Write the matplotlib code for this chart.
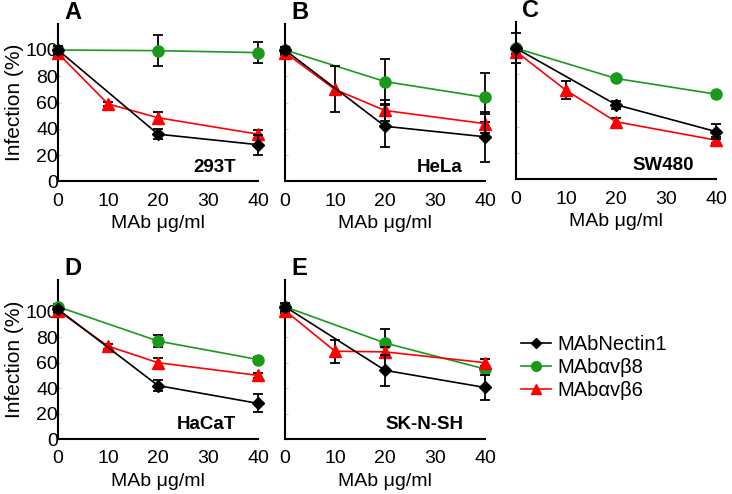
"""
Antibody blocking of infection in five cell lines (panels A-E).
"""

import matplotlib
matplotlib.use("Agg")
import matplotlib.pyplot as plt
from matplotlib.lines import Line2D

plt.rcParams["font.family"] = ["Liberation Sans", "DejaVu Sans"]

# concentrations (MAb ug/ml)
dose_3 = [0, 20, 40]
dose_4 = [0, 10, 20, 40]

# panel A - 293T
a_nectin = [100, 36, 28]
a_nectin_err = [3, 4, 7.5]
a_b8 = [100, 99.5, 98]
a_b8_err = [3, 12, 8]
a_b6 = [97.5, 59, 48.5, 36]
a_b6_err = [2, 1.5, 4.5, 3]

# panel B - HeLa
b_nectin = [100, 42, 34]
b_nectin_err = [2, 16, 19]
b_b8 = [100, 76, 64]
b_b8_err = [2, 17, 18.5]
b_b6 = [98, 70, 54, 44]
b_b6_err = [2, 17.5, 8, 7]

# panel C - SW480
c_nectin = [100, 57, 36.5]
c_nectin_err = [11.5, 3, 6]
c_b8 = [100, 77, 65]
c_b8_err = [2, 2, 2]
c_b6 = [97.5, 68, 44, 30]
c_b6_err = [2, 7, 3, 2]

# panel D - HaCaT
d_nectin = [102, 42, 28]
d_nectin_err = [2, 4, 7]
d_b8 = [104, 77, 62.5]
d_b8_err = [2, 5, 2]
d_b6 = [101, 73, 60, 50]
d_b6_err = [2, 2, 4, 2]

# panel E - SK-N-SH
e_nectin = [104, 54, 40.5]
e_nectin_err = [3, 12, 9.5]
e_b8 = [104, 75.5, 55]
e_b8_err = [2, 11, 2]
e_b6 = [101, 69, 68.5, 60]
e_b6_err = [2, 9, 4, 3]

panels = [
    ("A", "293T", a_nectin, a_nectin_err, a_b8, a_b8_err, a_b6, a_b6_err),
    ("B", "HeLa", b_nectin, b_nectin_err, b_b8, b_b8_err, b_b6, b_b6_err),
    ("C", "SW480", c_nectin, c_nectin_err, c_b8, c_b8_err, c_b6, c_b6_err),
    ("D", "HaCaT", d_nectin, d_nectin_err, d_b8, d_b8_err, d_b6, d_b6_err),
    ("E", "SK-N-SH", e_nectin, e_nectin_err, e_b8, e_b8_err, e_b6, e_b6_err),
]
legend_labels = ["MAbNectin1", "MAbαvβ8", "MAbαvβ6"]

GREEN = "#1a9a1a"
RED = "#ff0000"
W, H = 732, 494

# axes boxes in pixels: left, top, right, bottom
boxes = [
    (58, 23.7, 258, 181.5),
    (285, 23.7, 485, 181.5),
    (516, 22, 716, 179.5),
    (58, 280, 258, 439),
    (285, 280, 485, 439),
]
ylims = [120, 120, 120, 125, 125]

fig = plt.figure(figsize=(W / 100, H / 100), dpi=100)

for i, (letter, cell, nec, nec_e, b8, b8_e, b6, b6_e) in enumerate(panels):
    l, t, r, b = boxes[i]
    ax = fig.add_axes([l / W, 1 - b / H, (r - l) / W, (b - t) / H])
    kw = dict(lw=1.2, ecolor="black", elinewidth=1.3, capsize=3.5,
              capthick=1.3, clip_on=False)
    ax.errorbar(dose_3, b8, yerr=b8_e, color=GREEN, marker="o", ms=8,
                zorder=3, **kw)
    ax.errorbar(dose_4, b6, yerr=b6_e, color=RED, marker="^", ms=8,
                zorder=4, **kw)
    ax.errorbar(dose_3, nec, yerr=nec_e, color="black", marker="D", ms=6.5,
                zorder=5, **kw)

    ax.set_xlim(0, 40)
    ax.set_ylim(0, ylims[i])
    ax.set_xticks([0, 10, 20, 30, 40])
    ax.set_yticks([0, 20, 40, 60, 80, 100])
    for side in ("top", "right"):
        ax.spines[side].set_visible(False)
    for side in ("left", "bottom"):
        ax.spines[side].set_linewidth(1.5)
    ax.tick_params(axis="both", labelsize=14, length=2, width=0.8,
                   color="#cccccc", direction="in")
    ax.tick_params(axis="x", pad=8, length=0)
    ax.tick_params(axis="y", pad=0)
    if i in (0, 3):
        ax.set_ylabel("Infection (%)", fontsize=15, labelpad=1)
    else:
        ax.set_yticklabels([])
    ax.set_xlabel("MAb μg/ml", fontsize=14, labelpad=4)

    ax.text(0.03, 1.0, letter, transform=ax.transAxes, fontsize=17,
            fontweight="bold", va="bottom", ha="left")
    ax.text(0.89, 0.035, cell, transform=ax.transAxes, fontsize=13.5,
            fontweight="bold", va="bottom", ha="right")

handles = [
    Line2D([], [], color="black", marker="D", ms=5, lw=1.2),
    Line2D([], [], color=GREEN, marker="o", ms=7, lw=1.2),
    Line2D([], [], color=RED, marker="^", ms=7, lw=1.2),
]
fig.legend(handles, legend_labels, loc="upper left",
           bbox_to_anchor=(521 / W, 1 - 335 / H), frameon=False,
           fontsize=14.5, handlelength=1.5, handletextpad=0.3,
           labelspacing=0.2, borderpad=0, borderaxespad=0)

fig.savefig("out.png", dpi=100)
